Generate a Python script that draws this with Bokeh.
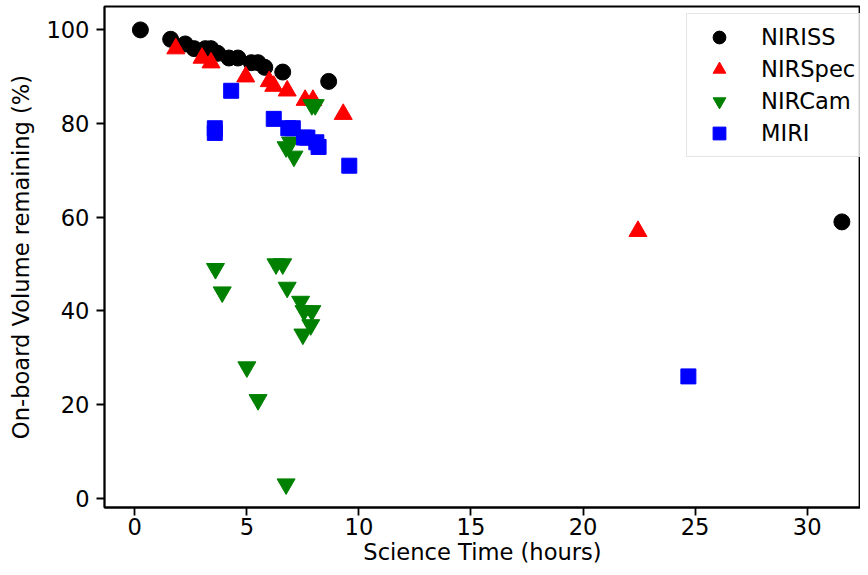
from bokeh.plotting import figure
from bokeh.models import Range1d, Legend, LegendItem
from bokeh.embed import file_html
from bokeh.resources import INLINE

# Data
niriss_x = [0.25, 1.6, 2.25, 2.65, 3.15, 3.4, 3.7, 4.2, 4.6, 5.2, 5.5, 5.8, 6.6, 8.65, 31.55]
niriss_y = [100, 98, 97, 96, 96, 96, 95, 94, 94, 93, 93, 92, 91, 89, 59]

nirspec_x = [1.83, 3.0, 3.4, 4.95, 6.0, 6.2, 6.8, 7.6, 7.95, 9.3, 22.45]
nirspec_y = [96, 94, 93, 90, 89, 88, 87, 85, 85, 82, 57]

nircam_x = [3.6, 3.9, 5.0, 5.5, 6.3, 6.6, 6.75, 6.8, 6.95, 7.1, 7.4, 7.5, 7.55, 7.85, 7.9, 7.9, 8.05, 6.75]
nircam_y = [49, 44, 28, 21, 50, 50, 75, 45, 76, 73, 42, 35, 40, 37, 40, 84, 84, 3]

miri_x = [3.57, 3.57, 4.3, 6.2, 6.85, 7.05, 7.55, 7.7, 8.1, 8.2, 9.57, 24.7]
miri_y = [79, 78, 87, 81, 79, 79, 77, 77, 76, 75, 71, 26]

x_ticks = [0, 5, 10, 15, 20, 25, 30]
y_ticks = [0, 20, 40, 60, 80, 100]

FONT = "DejaVu Sans"
FS = "22.6px"

p = figure(width=860, height=567, output_backend="svg", toolbar_location=None,
           x_range=Range1d(-1.352, 32.38), y_range=Range1d(-2.0, 105.0),
           min_border_left=104, min_border_right=0, min_border_top=6, min_border_bottom=58,
           background_fill_color="white", border_fill_color="white")

p.grid.visible = False
p.outline_line_color = "black"
p.outline_line_width = 1.8

for ax in (p.xaxis[0], p.yaxis[0]):
    ax.axis_line_width = 1.8
    ax.major_tick_line_width = 1.8
    ax.major_tick_out = 8
    ax.major_tick_in = 0
    ax.minor_tick_line_color = None
    ax.major_label_text_font = FONT
    ax.major_label_text_font_size = FS
    ax.major_label_text_color = "black"
    ax.axis_label_text_font = FONT
    ax.axis_label_text_font_size = FS
    ax.axis_label_text_font_style = "normal"
    ax.axis_label_text_color = "black"

p.xaxis.ticker = x_ticks
p.yaxis.ticker = y_ticks
p.xaxis.axis_label = "Science Time (hours)"
p.yaxis.axis_label = "On-board Volume remaining (%)"
p.xaxis.major_label_standoff = 2
p.xaxis.axis_label_standoff = 1
p.yaxis.major_label_standoff = 7
p.yaxis.axis_label_standoff = 9

r1 = p.scatter(niriss_x, niriss_y, marker="circle", size=16, color="black")
r2 = p.scatter(nirspec_x, nirspec_y, marker="triangle", size=18, color="red")
r3 = p.scatter(nircam_x, nircam_y, marker="inverted_triangle", size=18, color="green")
r4 = p.scatter(miri_x, miri_y, marker="square", size=15, color="blue")

legend = Legend(items=[LegendItem(label="NIRISS", renderers=[r1]),
                       LegendItem(label="NIRSpec", renderers=[r2]),
                       LegendItem(label="NIRCam", renderers=[r3]),
                       LegendItem(label="MIRI", renderers=[r4])],
                location=(582, 350), margin=0, padding=7, spacing=0,
                glyph_width=50, glyph_height=32, label_height=32, label_width=97,
                label_standoff=17,
                label_text_font=FONT, label_text_font_size=FS, label_text_color="black",
                border_line_color="#cccccc", border_line_width=1.8,
                background_fill_alpha=0.8)
p.add_layout(legend, "center")

open("out.html", "w").write(file_html(p, INLINE))
